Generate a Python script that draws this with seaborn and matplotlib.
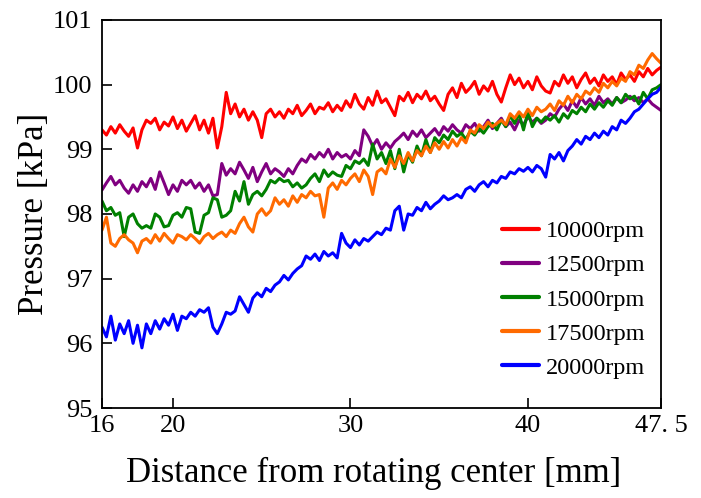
import numpy as np
import pandas as pd
import matplotlib
matplotlib.use("Agg")
import matplotlib.pyplot as plt
import seaborn as sns

# --- data (0.25 mm step) ---
distance = np.linspace(16, 47.5, 127)

p_10000 = [
    99.30, 99.22, 99.35, 99.25, 99.38, 99.28, 99.20, 99.33, 99.02, 99.30,
    99.45, 99.40, 99.48, 99.30, 99.42, 99.36, 99.50, 99.32, 99.45, 99.28,
    99.40, 99.52, 99.30, 99.45, 99.25, 99.48, 99.02, 99.35, 99.88, 99.55,
    99.70, 99.50, 99.62, 99.45, 99.58, 99.45, 99.18, 99.55, 99.62, 99.50,
    99.58, 99.48, 99.62, 99.55, 99.68, 99.52, 99.60, 99.70, 99.55, 99.65,
    99.62, 99.72, 99.58, 99.68, 99.60, 99.75, 99.65, 99.85, 99.70, 99.62,
    99.80, 99.68, 99.90, 99.72, 99.78, 99.65, 99.52, 99.82, 99.75, 99.88,
    99.72, 99.85, 99.78, 99.90, 99.75, 99.82, 99.70, 99.60, 99.85, 99.95,
    99.80, 100.02, 99.88, 99.95, 100.05, 99.85, 99.98, 99.90, 100.05, 99.85,
    99.73, 99.95, 100.15, 100.00, 100.10, 99.95, 100.05, 99.92, 100.12, 99.98,
    99.90, 99.87, 100.05, 99.98, 100.15, 100.02, 100.12, 99.95, 100.08, 100.18,
    100.02, 100.10, 99.98, 100.15, 100.05, 100.12, 100.00, 100.18, 100.08, 100.15,
    100.05, 100.20, 100.12, 100.25, 100.15, 100.22, 100.27,
]
p_12500 = [
    98.37, 98.48, 98.58, 98.45, 98.52, 98.40, 98.32, 98.45, 98.35, 98.50,
    98.42, 98.55, 98.38, 98.65, 98.48, 98.30, 98.45, 98.35, 98.52, 98.45,
    98.52, 98.40, 98.48, 98.35, 98.45, 98.28, 98.30, 98.78, 98.60, 98.70,
    98.62, 98.80, 98.68, 98.55, 98.72, 98.50, 98.65, 98.78, 98.62, 98.70,
    98.65, 98.58, 98.70, 98.62, 98.75, 98.85, 98.80, 98.92, 98.85, 98.95,
    98.88, 99.00, 98.85, 98.95, 98.88, 98.92, 98.85, 98.98, 98.90, 99.30,
    99.20, 99.05, 99.15, 99.00, 99.10, 99.02, 99.12, 99.18, 99.25, 99.15,
    99.28, 99.20, 99.30, 99.18, 99.25, 99.32, 99.22, 99.35, 99.28, 99.38,
    99.30, 99.25, 99.38, 99.32, 99.40, 99.28, 99.35, 99.45, 99.32, 99.40,
    99.48, 99.35, 99.42, 99.30, 99.45, 99.38, 99.50, 99.42, 99.48, 99.40,
    99.45, 99.55, 99.50, 99.62, 99.70, 99.60, 99.75, 99.65, 99.80, 99.70,
    99.78, 99.68, 99.82, 99.72, 99.78, 99.70, 99.80, 99.72, 99.76, 99.82,
    99.75, 99.80, 99.72, 99.78, 99.70, 99.65, 99.60,
]
p_15000 = [
    98.20, 98.05, 98.10, 97.98, 98.02, 97.65, 97.95, 98.00, 97.85, 97.78,
    97.82, 97.78, 98.00, 97.95, 97.80, 97.82, 97.98, 98.02, 97.95, 98.10,
    98.08, 97.72, 97.70, 97.98, 98.02, 98.25, 98.22, 97.95, 97.98, 98.05,
    98.35, 98.20, 98.50, 98.15, 98.30, 98.35, 98.28, 98.38, 98.52, 98.48,
    98.55, 98.50, 98.52, 98.42, 98.48, 98.40, 98.45, 98.55, 98.62, 98.50,
    98.68, 98.58, 98.65, 98.60, 98.58, 98.75, 98.70, 98.82, 98.78, 98.85,
    98.75, 99.08, 98.85, 98.95, 98.78, 98.98, 98.70, 99.00, 98.65, 98.92,
    98.80, 99.05, 98.90, 99.15, 98.95, 99.18, 99.10, 99.22, 99.15, 99.28,
    99.20, 99.25, 99.15, 99.28, 99.22, 99.32, 99.25, 99.35, 99.40, 99.30,
    99.45, 99.35, 99.52, 99.40, 99.55, 99.30, 99.58, 99.35, 99.48, 99.42,
    99.50, 99.45, 99.52, 99.42, 99.55, 99.48, 99.60, 99.55, 99.65, 99.58,
    99.70, 99.62, 99.72, 99.65, 99.75, 99.68, 99.80, 99.72, 99.85, 99.78,
    99.82, 99.70, 99.88, 99.78, 99.92, 99.95, 100.00,
]
p_17500 = [
    97.75, 97.95, 97.55, 97.50, 97.62, 97.68, 97.60, 97.55, 97.40, 97.58,
    97.62, 97.55, 97.68, 97.58, 97.70, 97.62, 97.55, 97.68, 97.65, 97.60,
    97.68, 97.62, 97.55, 97.65, 97.70, 97.62, 97.68, 97.72, 97.65, 97.75,
    97.70, 97.85, 97.95, 97.80, 97.72, 98.00, 98.08, 97.98, 98.05, 98.25,
    98.15, 98.22, 98.12, 98.28, 98.18, 98.30, 98.25, 98.35, 98.28, 98.30,
    97.95, 98.40, 98.48, 98.38, 98.52, 98.45, 98.55, 98.62, 98.50, 98.68,
    98.58, 98.30, 98.65, 98.70, 98.62, 98.85, 98.72, 98.90, 98.78, 98.95,
    98.82, 98.98, 98.90, 99.05, 98.95, 99.10, 99.00, 99.12, 99.02, 99.15,
    99.05, 99.18, 99.10, 99.30, 99.25, 99.38, 99.32, 99.42, 99.35, 99.40,
    99.45, 99.38, 99.55, 99.48, 99.58, 99.50, 99.62, 99.52, 99.65, 99.58,
    99.62, 99.70, 99.60, 99.75, 99.68, 99.82, 99.72, 99.85, 99.78, 99.90,
    99.85, 99.95, 99.88, 100.02, 99.95, 100.05, 99.98, 100.10, 100.05, 100.20,
    100.15, 100.30, 100.25, 100.38, 100.48, 100.40, 100.33,
]
p_20000 = [
    96.25, 96.10, 96.42, 96.05, 96.30, 96.15, 96.35, 96.00, 96.28, 95.93,
    96.30, 96.15, 96.35, 96.22, 96.38, 96.28, 96.45, 96.20, 96.42, 96.38,
    96.48, 96.42, 96.52, 96.48, 96.55, 96.25, 96.15, 96.30, 96.48, 96.45,
    96.50, 96.72, 96.60, 96.48, 96.70, 96.78, 96.72, 96.85, 96.80, 96.90,
    96.95, 97.05, 96.98, 97.08, 97.15, 97.20, 97.35, 97.30, 97.38, 97.28,
    97.42, 97.35, 97.40, 97.32, 97.70, 97.55, 97.48, 97.60, 97.52, 97.62,
    97.58, 97.65, 97.72, 97.68, 97.78, 97.75, 98.05, 98.12, 97.75, 98.00,
    97.98, 98.10, 98.05, 98.18, 98.08, 98.15, 98.20, 98.28, 98.22, 98.25,
    98.30, 98.25, 98.38, 98.42, 98.35, 98.45, 98.50, 98.42, 98.52, 98.48,
    98.58, 98.55, 98.65, 98.62, 98.70, 98.66, 98.72, 98.65, 98.75, 98.70,
    98.57, 98.92, 98.85, 98.95, 98.82, 98.98, 99.05, 99.15, 99.08, 99.20,
    99.15, 99.25, 99.18, 99.28, 99.22, 99.35, 99.30, 99.45, 99.40, 99.48,
    99.58, 99.62, 99.70, 99.78, 99.85, 99.88, 99.96,
]

speeds = ["10000rpm", "12500rpm", "15000rpm", "17500rpm", "20000rpm"]
colors = ["#ff0000", "#800080", "#008000", "#ff6a00", "#0000ff"]
x_ticks = [16, 20, 30, 40, 47.5]
x_tick_labels = ["16", "20", "30", "40", "47. 5"]
y_ticks = [95, 96, 97, 98, 99, 100, 101]

# long-form table for seaborn
series = [p_10000, p_12500, p_15000, p_17500, p_20000]
df = pd.concat([
    pd.DataFrame({"distance": distance, "pressure": vals, "speed": name})
    for name, vals in zip(speeds, series)
])

# --- plot ---
sns.set_style("ticks", {"xtick.direction": "in", "ytick.direction": "in",
                        "axes.edgecolor": "black", "text.color": "black",
                        "xtick.color": "black", "ytick.color": "black",
                        "axes.labelcolor": "black"})
plt.rcParams['font.family'] = ['Liberation Serif', 'DejaVu Serif']
plt.rcParams['xtick.major.size'] = 7
plt.rcParams['ytick.major.size'] = 7
plt.rcParams['xtick.major.width'] = 1.2
plt.rcParams['ytick.major.width'] = 1.2

fig = plt.figure(figsize=(7.01, 4.98), dpi=100)
ax = fig.add_axes([0.1455, 0.1807, 0.7975, 0.7793])

sns.lineplot(data=df, x="distance", y="pressure", hue="speed",
             hue_order=speeds, palette=colors, linewidth=2.2, ax=ax,
             estimator=None, sort=False)

ax.set_xlim(16, 47.5)
ax.set_ylim(95, 101)
ax.set_xticks(x_ticks)
ax.set_xticklabels(x_tick_labels)
ax.set_yticks(y_ticks)
ax.tick_params(direction="in", length=7, width=1.2, labelsize=19,
               color="black", labelcolor="black")
ax.tick_params(axis="y", pad=7)
ax.tick_params(axis="x", pad=5)
for side in ["top", "right", "bottom", "left"]:
    ax.spines[side].set_visible(True)
    ax.spines[side].set_linewidth(1.3)
    ax.spines[side].set_color("black")

ax.set_xlabel("Distance from rotating center [mm]", fontsize=25, labelpad=14)
ax.xaxis.set_label_coords(0.485, -0.125, transform=ax.transAxes)
ax.xaxis.label.set_va("top")
ax.set_ylabel("Pressure [kPa]", fontsize=25, labelpad=1)

leg = ax.legend(loc="lower right", bbox_to_anchor=(0.99, 0.05),
                frameon=False, fontsize=17.5, handlelength=1.5,
                handletextpad=0.3, labelspacing=0.5, borderaxespad=0)
for line in leg.get_lines():
    line.set_linewidth(3)

fig.savefig("out.png", dpi=100)
